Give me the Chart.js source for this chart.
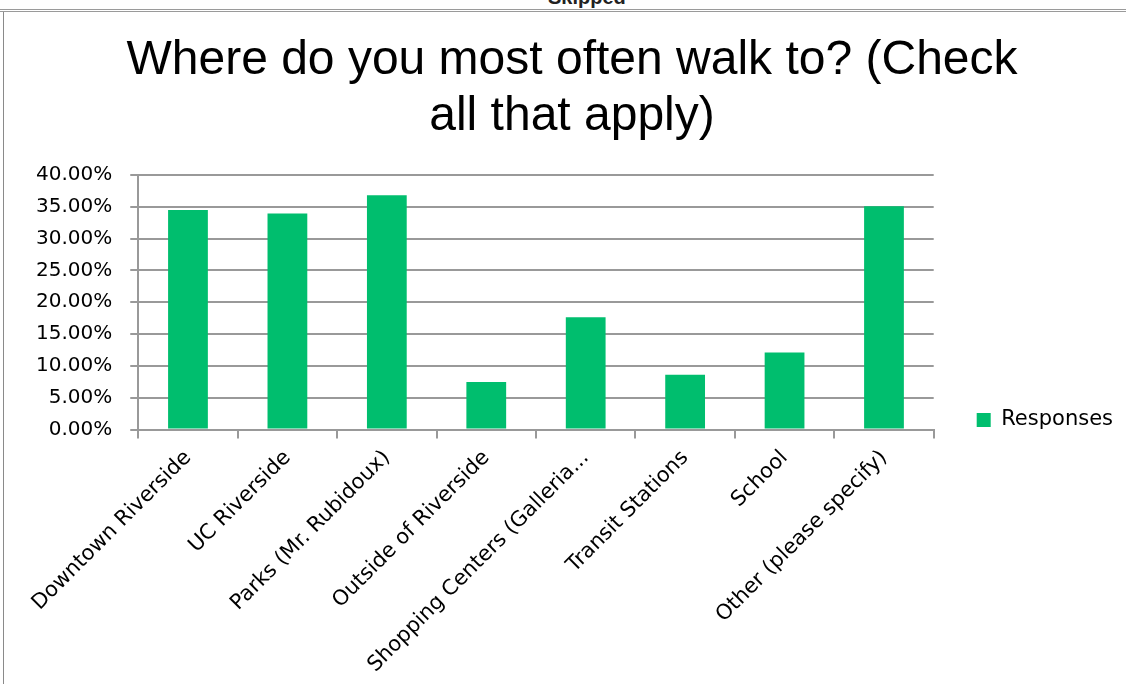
<!DOCTYPE html>
<html>
<head>
<meta charset="utf-8">
<script src="https://cdn.jsdelivr.net/npm/chart.js@4.4.1/dist/chart.umd.min.js"></script>
<style>
  body { margin: 0; background: #fff; width: 1126px; height: 684px; overflow: hidden; position: relative; }
  .topline { position: absolute; left: 0; top: 9px; width: 1126px; height: 3px; border-top: 1px solid #9a9a9a; border-bottom: 1px solid #9a9a9a; box-sizing: border-box; }
  .skipped { position: absolute; left: 548px; top: -14px; font: bold 20px "Liberation Sans", Arial, sans-serif; color: #222; }
  .frame { position: absolute; left: 3px; top: 12px; width: 1123px; height: 672px; border-left: 1px solid #8a8a8a; }
  .title { position: absolute; left: 0; top: 30px; width: 1144px; text-align: center; font: 48px/56px "Liberation Sans", Arial, sans-serif; color: #000; z-index: 2; }
  #wrap { position: absolute; left: 4px; top: 12px; width: 1122px; height: 672px; }
</style>
</head>
<body>
<div class="skipped">Skipped</div>
<div class="topline"></div>
<div class="frame"></div>
<div class="title" id="title"></div>
<div id="wrap"><canvas id="chart"></canvas></div>
<script>
const titleLines = ["Where do you most often walk to? (Check", "all that apply)"]
const categories = [
  "Downtown Riverside",
  "UC Riverside",
  "Parks (Mr. Rubidoux)",
  "Outside of Riverside",
  "Shopping Centers (Galleria...",
  "Transit Stations",
  "School",
  "Other (please specify)"
]
const responses = [34.48, 33.95, 36.83, 7.46, 17.65, 8.62, 12.12, 35.10]
const yTicks = [0, 5, 10, 15, 20, 25, 30, 35, 40]

document.getElementById("title").innerHTML = titleLines.join("<br>")

const tickFont = { family: "'DejaVu Sans', sans-serif", size: 20 }
const xTickFont = { family: "'DejaVu Sans', sans-serif", size: 21 }
const gridColor = "#999999"

// nudge the legend box right/down, the way Excel sits it
const legendNudge = {
  id: "legendNudge",
  afterLayout(chart) {
    const lg = chart.legend
    if (!lg) return
    lg.left += 35
    lg.right += 35
    lg.top += 9
    lg.bottom += 9
  }
}

const ctx = document.getElementById("chart").getContext("2d")
new Chart(ctx, {
  type: "bar",
  data: {
    labels: categories,
    datasets: [
      {
        label: "Responses",
        data: responses,
        backgroundColor: "#00be6e",
        borderWidth: 0,
        barPercentage: 0.4,
        categoryPercentage: 1.0
      }
    ]
  },
  plugins: [legendNudge],
  options: {
    responsive: true,
    maintainAspectRatio: false,
    animation: false,
    layout: {
      padding: { left: 14, right: 38, top: 163, bottom: 0 }
    },
    plugins: {
      title: { display: false },
      legend: {
        display: true,
        position: "right",
        align: "end",
        fullSize: false,
        labels: {
          color: "#000",
          font: { family: "'DejaVu Sans', sans-serif", size: 21 },
          boxWidth: 14,
          boxHeight: 14,
          padding: 8
        }
      },
      tooltip: { enabled: false }
    },
    scales: {
      x: {
        offset: true,
        grid: {
          display: true,
          drawOnChartArea: false,
          drawTicks: true,
          tickLength: 9,
          color: gridColor,
          lineWidth: 2
        },
        border: { color: gridColor, width: 2 },
        ticks: {
          color: "#000",
          font: xTickFont,
          minRotation: 45,
          maxRotation: 45,
          autoSkip: false,
          padding: 7
        }
      },
      y: {
        min: 0,
        max: 40,
        afterBuildTicks: axis => {
          axis.ticks = yTicks.map(v => ({ value: v }))
        },
        grid: {
          color: gridColor,
          lineWidth: 2,
          drawTicks: true,
          tickLength: 8
        },
        border: { color: gridColor, width: 2 },
        ticks: {
          color: "#000",
          font: tickFont,
          padding: 18,
          callback: v => v.toFixed(2) + "%"
        }
      }
    }
  }
})
</script>
</body>
</html>
